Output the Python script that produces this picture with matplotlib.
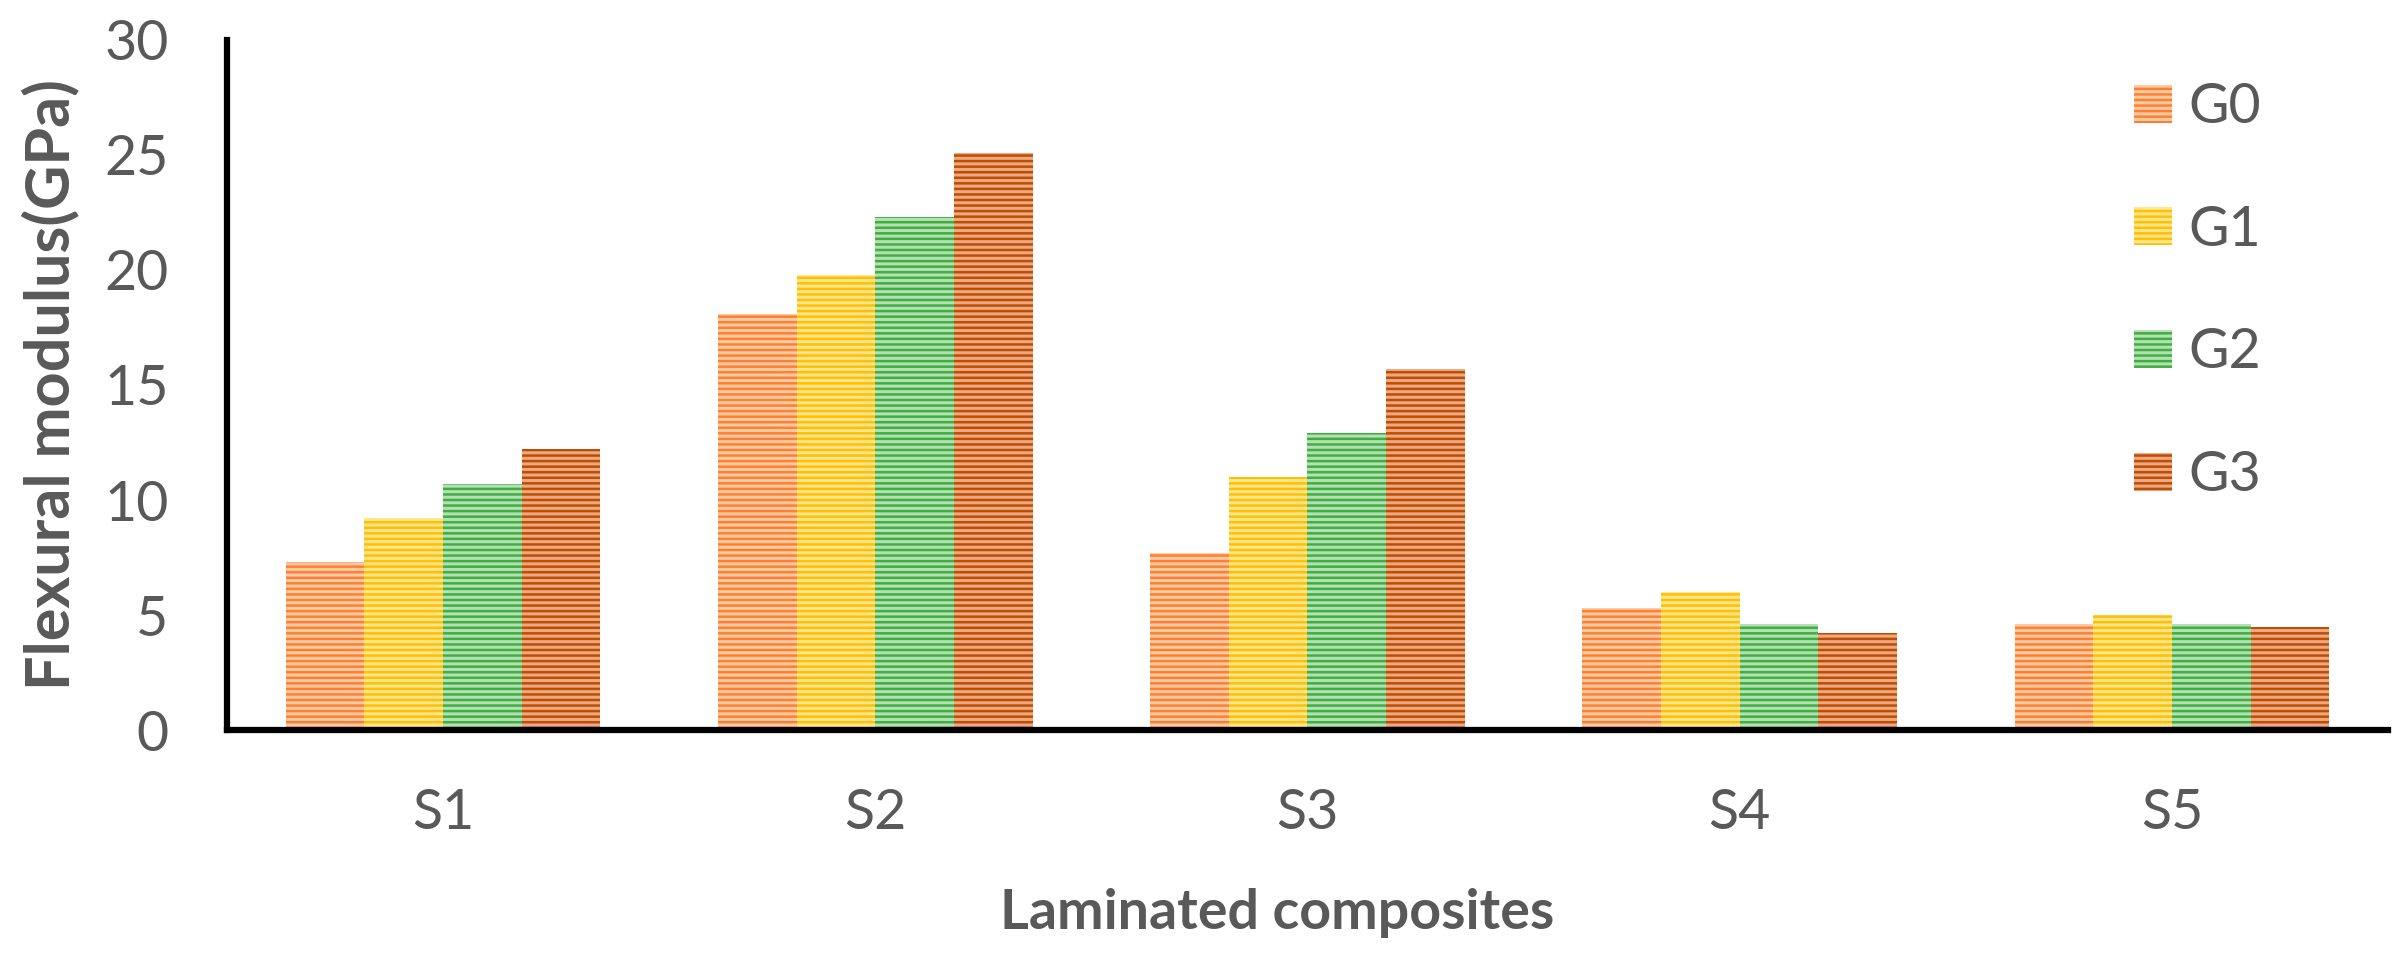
import matplotlib

matplotlib.use("Agg")
import matplotlib.pyplot as plt
import numpy as np

# values (GPa)
composites = ["S1", "S2", "S3", "S4", "S5"]
groups = ["G0", "G1", "G2", "G3"]
g0 = [7.3, 18.1, 7.7, 5.3, 4.6]
g1 = [9.2, 19.8, 11.0, 6.0, 5.0]
g2 = [10.7, 22.3, 12.9, 4.6, 4.6]
g3 = [12.2, 25.1, 15.7, 4.2, 4.5]

face_colors = ["#FF7F2E", "#FFC000", "#3FAF3F", "#BF4D00"]
stripe_colors = ["#FFCBA6", "#FFE58F", "#B5DFB5", "#EBAA85"]

plt.rcParams["font.family"] = ["Lato", "DejaVu Sans"]
plt.rcParams["hatch.linewidth"] = 2.2

fig = plt.figure(figsize=(23.96, 9.66), dpi=100)
ax = fig.add_axes([0.0947, 0.2443, 0.902, 0.7143])

x = np.arange(len(composites))
width = 0.182
for i, (name, vals) in enumerate(zip(groups, [g0, g1, g2, g3])):
    ax.bar(x + (i - 1.5) * width, vals, width, color=face_colors[i],
           edgecolor=stripe_colors[i], linewidth=0, hatch="---", label=name)

ax.set_xlim(-0.5, 4.5)
ax.set_ylim(0, 30)
ax.set_yticks(range(0, 31, 5))
ax.set_xticks(x)
ax.set_xticklabels(composites)

for side in ("top", "right"):
    ax.spines[side].set_visible(False)
for side in ("left", "bottom"):
    ax.spines[side].set_linewidth(4.5)
    ax.spines[side].set_color("black")

ax.tick_params(axis="both", length=0, labelsize=40, labelcolor="#595959")
ax.tick_params(axis="y", pad=42)
ax.tick_params(axis="x", pad=42)

ax.set_xlabel("Laminated composites", fontsize=40, fontweight="bold",
              color="#595959", labelpad=35)
ax.xaxis.label.set_x(0.486)
ax.set_ylabel("Flexural modulus(GPa)", fontsize=44, fontweight="bold",
              color="#595959", labelpad=18)

fig.legend(loc="upper left", bbox_to_anchor=(0.8907, 0.915), frameon=False,
           fontsize=40, labelcolor="#595959", handlelength=0.68,
           handleheight=0.68, handletextpad=0.3, labelspacing=1.29,
           borderpad=0, borderaxespad=0)

fig.savefig("out.png", dpi=100)
